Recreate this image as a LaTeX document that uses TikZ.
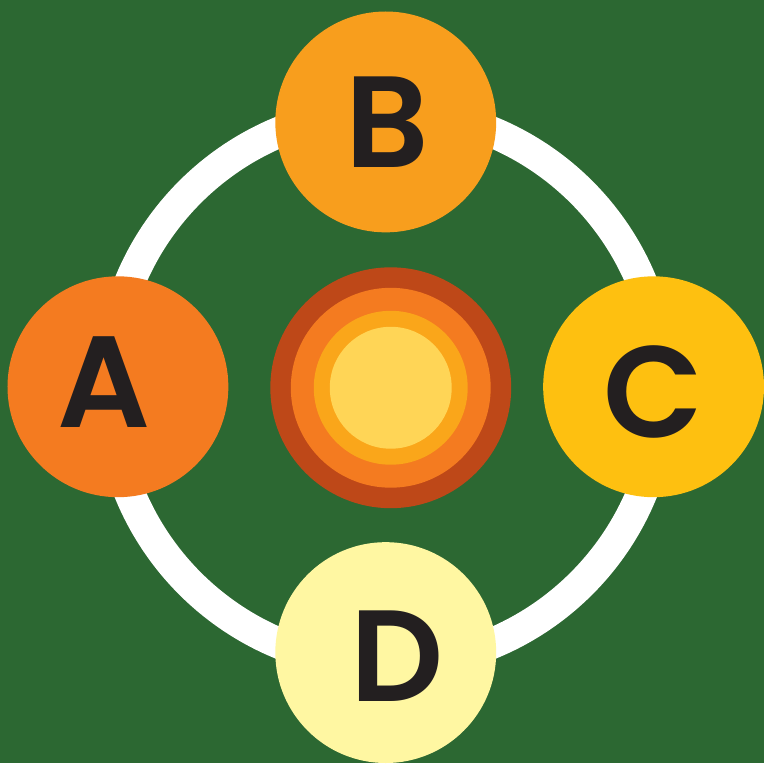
\documentclass[tikz,border=0pt]{standalone}
\usepackage{fontspec}
\newfontfamily\lblfont{Poppins SemiBold}
\usepackage{xcolor}
\definecolor{bggreen}{HTML}{2C6832}
\definecolor{colA}{HTML}{F47B20}
\definecolor{colB}{HTML}{F89E1D}
\definecolor{colC}{HTML}{FEC010}
\definecolor{colD}{HTML}{FFF7A2}
\definecolor{sunA}{HTML}{BE4818}
\definecolor{sunB}{HTML}{F47B20}
\definecolor{sunC}{HTML}{FAA61A}
\definecolor{sunD}{HTML}{FFD556}
\definecolor{ink}{HTML}{231F20}

\begin{document}
\begin{tikzpicture}[
      x=1pt, y=-1pt,
      disc/.style={circle, inner sep=0pt, minimum size=221pt},
      letter/.style={text=ink, inner sep=0pt, font=\lblfont\fontsize{130}{130}\selectfont},
      ring/.style={draw=white, line width=31pt},
    ]
    \fill[bggreen] (0,0) rectangle (764,763);
    \coordinate (ctr) at (386,388);
    \draw[ring] (ctr) circle[radius=277];
    % the sun in the middle
    \node[disc, fill=sunA, minimum size=241pt] (sun)  at (391,388) {};
    \node[disc, fill=sunB, minimum size=200pt] (sunb) at (sun) {};
    \node[disc, fill=sunC, minimum size=154pt] (sunc) at (sun) {};
    \node[disc, fill=sunD, minimum size=122pt] (sund) at (sun) {};
    % the four stations
    \node[disc, fill=colA, label={[letter, xshift=-14pt, yshift=5pt]center:A}] (A) at (118,387) {};
    \node[disc, fill=colB, label={[letter, xshift=2pt]center:B}]               (B) at (386,122) {};
    \node[disc, fill=colC, label={[letter, yshift=-5pt]center:C}]              (C) at (654,387) {};
    \node[disc, fill=colD, label={[letter, xshift=11pt, yshift=-4pt]center:D}] (D) at (386,653) {};
  \end{tikzpicture}
\end{document}
